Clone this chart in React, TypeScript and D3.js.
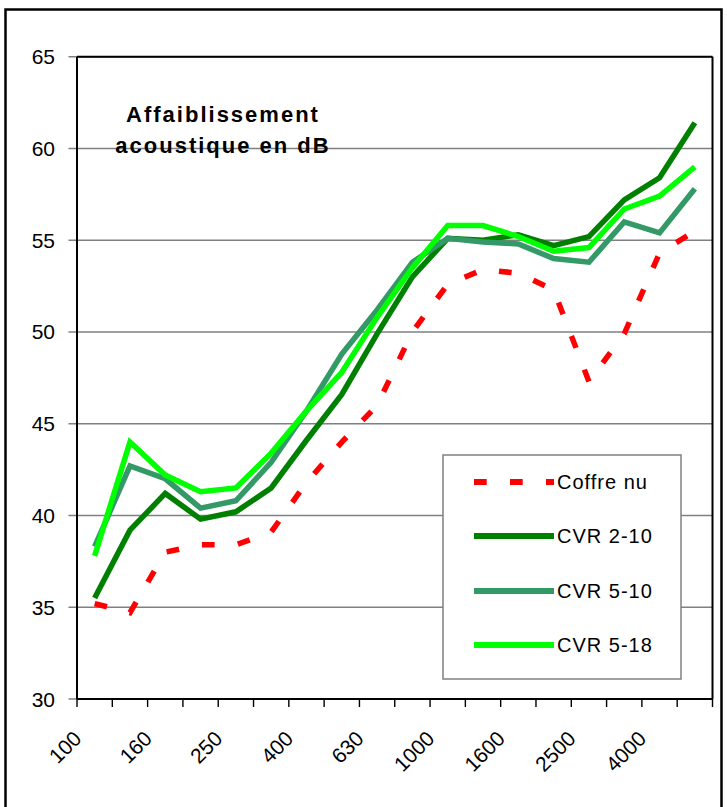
import React from "react";
import * as d3 from "d3";

const width = 727;
const height = 807;

const categories = [
  "100", "125", "160", "200", "250", "315", "400", "500", "630",
  "800", "1000", "1250", "1600", "2000", "2500", "3150", "4000", "5000",
];

const coffreNu = [35.2, 34.7, 38.0, 38.4, 38.4, 39.1, 41.8, 44.0, 46.0, 50.0, 52.6, 53.4, 53.2, 52.3, 47.3, 49.9, 54.3, 55.5];
const cvr210 = [35.5, 39.2, 41.2, 39.8, 40.2, 41.5, 44.1, 46.6, 49.9, 53.0, 55.1, 55.0, 55.3, 54.7, 55.2, 57.2, 58.4, 61.4];
const cvr510 = [38.3, 42.7, 42.0, 40.4, 40.8, 42.9, 45.7, 48.8, 51.2, 53.8, 55.1, 54.9, 54.8, 54.0, 53.8, 56.0, 55.4, 57.8];
const cvr518 = [37.8, 44.0, 42.2, 41.3, 41.5, 43.4, 45.7, 47.8, 50.8, 53.5, 55.8, 55.8, 55.2, 54.4, 54.6, 56.7, 57.4, 59.0];

const yTicks = [30, 35, 40, 45, 50, 55, 60, 65];

const series = [
  { name: "Coffre nu", values: coffreNu, color: "#ff0000", dash: "12.7 23.3" },
  { name: "CVR 2-10", values: cvr210, color: "#008000", dash: undefined },
  { name: "CVR 5-10", values: cvr510, color: "#339966", dash: undefined },
  { name: "CVR 5-18", values: cvr518, color: "#00ff00", dash: undefined },
];

const font = "'Liberation Sans', Arial, sans-serif";

// plot area
const left = 77;
const right = 712.5;
const top = 56.7;
const bottom = 699;

export default function App() {
  const x = d3.scaleBand<string>().domain(categories).range([left, right]).padding(0);
  const y = d3.scaleLinear().domain([30, 65]).range([bottom, top]);
  const bw = x.bandwidth();
  const cx = (c: string) => (x(c) as number) + bw / 2;

  const line = d3
    .line<number>()
    .x((_, i) => cx(categories[i]))
    .y((d) => y(d));

  const boundaries = categories.map((c) => x(c) as number).concat([right]);

  const legendX = 443;
  const legendY = 455;
  const rowY = [482, 536, 591, 645];

  return (
    <svg
      width={width}
      height={height}
      style={{ position: "absolute", left: 0, top: 0, background: "#fff" }}
      fontFamily={font}
    >
      <rect x={5.5} y={9.5} width={716} height={830} fill="#fff" stroke="#000" strokeWidth={2.5} />

      {/* gridlines */}
      {yTicks.map((t) => (
        <g key={t}>
          <line x1={68.5} x2={right} y1={y(t)} y2={y(t)} stroke="#808080" strokeWidth={1.4} />
          <text x={55} y={y(t) + 7.5} textAnchor="end" fontSize={21} fill="#000">
            {t}
          </text>
        </g>
      ))}

      {/* title */}
      <text x={223} y={121.7} textAnchor="middle" fontSize={22} fontWeight="bold" letterSpacing={2}>
        Affaiblissement
      </text>
      <text x={223} y={152.7} textAnchor="middle" fontSize={22} fontWeight="bold" letterSpacing={2}>
        acoustique en dB
      </text>

      {/* plot frame */}
      <line x1={left} x2={right} y1={top} y2={top} stroke="#000" strokeWidth={2} />
      <line x1={right} x2={right} y1={top} y2={bottom} stroke="#000" strokeWidth={2} />
      <line x1={left} x2={left} y1={top} y2={bottom} stroke="#000" strokeWidth={2} />
      <line x1={left} x2={right} y1={bottom} y2={bottom} stroke="#000" strokeWidth={2} />

      {/* x ticks */}
      {boundaries.map((b, i) => (
        <line key={i} x1={b} x2={b} y1={bottom} y2={bottom + 8} stroke="#000" strokeWidth={1.4} />
      ))}
      {categories.map((c, i) =>
        i % 2 === 0 ? (
          <text
            key={c}
            transform={`translate(${cx(c) - 12},${740}) rotate(-45)`}
            textAnchor="end"
            fontSize={21}
            fill="#000"
          >
            {c}
          </text>
        ) : null
      )}

      {/* series */}
      {series.map((s) => (
        <path
          key={s.name}
          d={line(s.values) || ""}
          fill="none"
          stroke={s.color}
          strokeWidth={5.5}
          strokeDasharray={s.dash}
          strokeLinejoin="miter"
          strokeLinecap="butt"
        />
      ))}

      {/* legend */}
      <rect x={legendX} y={legendY} width={238} height={224} fill="#fff" stroke="#808080" strokeWidth={1.5} />
      {series.map((s, i) => (
        <g key={s.name}>
          <line
            x1={474}
            x2={554}
            y1={rowY[i]}
            y2={rowY[i]}
            stroke={s.color}
            strokeWidth={6}
            strokeDasharray={s.dash}
          />
          <text x={557} y={rowY[i] + 7} fontSize={20} letterSpacing={1} fill="#000">
            {s.name}
          </text>
        </g>
      ))}
    </svg>
  );
}
